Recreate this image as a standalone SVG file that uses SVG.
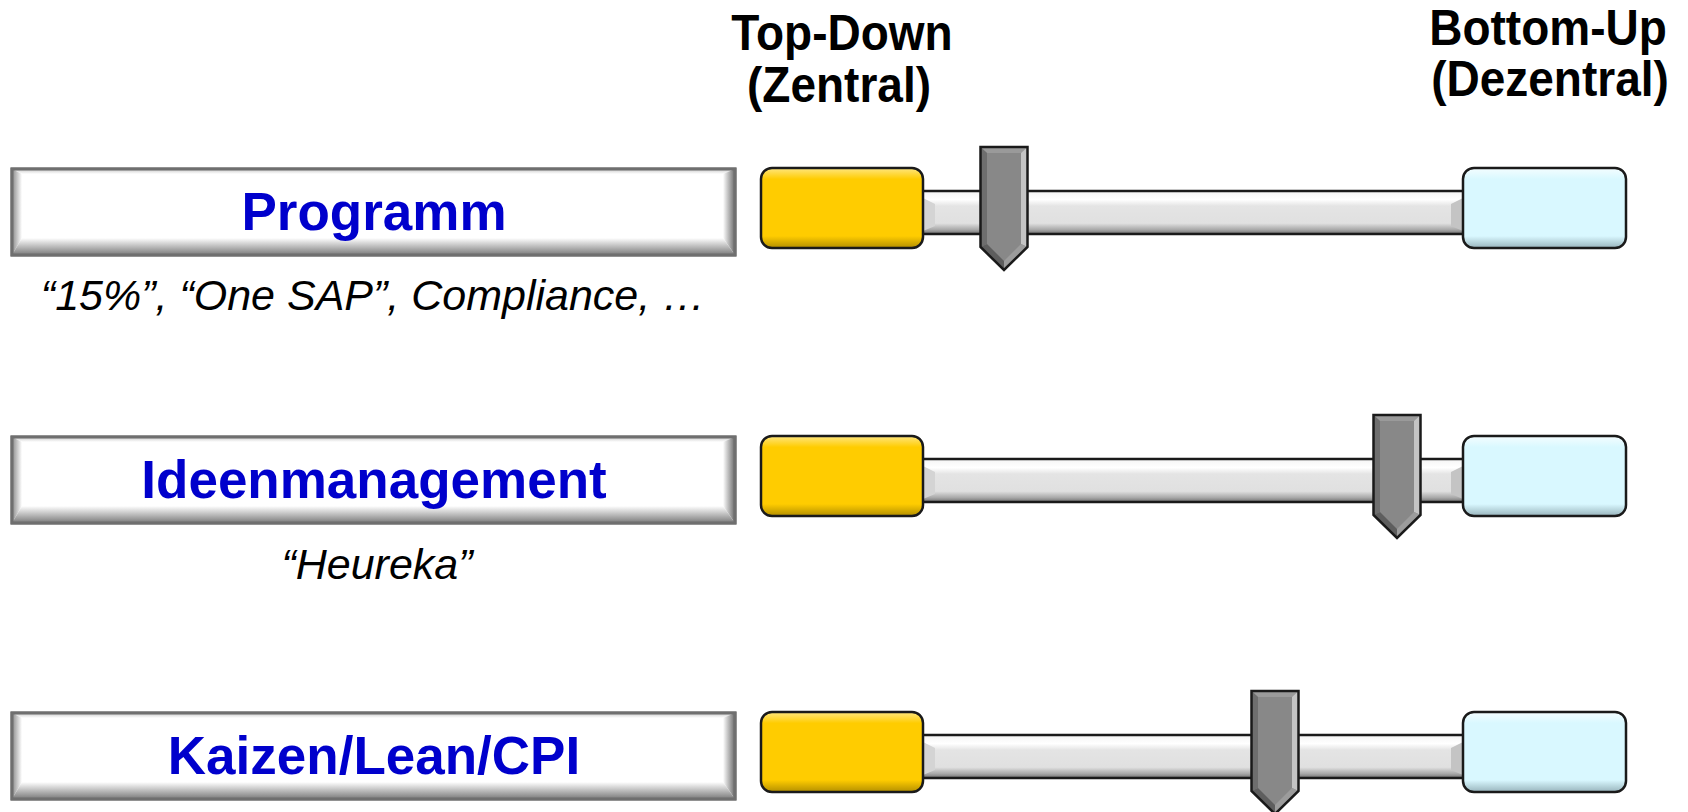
<svg xmlns="http://www.w3.org/2000/svg" width="1688" height="812" viewBox="0 0 1688 812">
<style>
.hdr{font-family:"Liberation Sans",Arial,sans-serif;font-weight:bold;font-size:46px;fill:#000;text-anchor:middle}
.lbl{font-family:"Liberation Sans",Arial,sans-serif;font-weight:bold;font-size:53px;fill:#0000cc;text-anchor:middle}
.sub{font-family:"Liberation Sans",Arial,sans-serif;font-style:italic;font-size:43px;fill:#000;text-anchor:middle}
.edge{stroke:#6f6f6f;stroke-width:3;fill:#fff}
.knob{stroke:#1a1a1a;stroke-width:2.5}
</style>
<defs>
<linearGradient id="gL" x1="0" x2="1" y1="0" y2="0"><stop offset="0" stop-color="#8a8a8a"/><stop offset="1" stop-color="#fff"/></linearGradient>
<linearGradient id="gR" x1="0" x2="1" y1="0" y2="0"><stop offset="0" stop-color="#fff"/><stop offset="1" stop-color="#6a6a6a"/></linearGradient>
<linearGradient id="gB" x1="0" x2="0" y1="0" y2="1"><stop offset="0" stop-color="#fff"/><stop offset="1" stop-color="#7a7a7a"/></linearGradient>
<linearGradient id="gT" x1="0" x2="0" y1="0" y2="1"><stop offset="0" stop-color="#c8c8c8"/><stop offset="1" stop-color="#fff"/></linearGradient>
<linearGradient id="gBar" x1="0" x2="0" y1="0" y2="1">
<stop offset="0" stop-color="#f4f4f4"/><stop offset="0.2" stop-color="#ffffff"/><stop offset="0.35" stop-color="#e4e4e4"/><stop offset="0.75" stop-color="#e0e0e0"/><stop offset="0.9" stop-color="#a8a8a8"/><stop offset="1" stop-color="#707070"/></linearGradient>
<linearGradient id="gY" x1="0" x2="0" y1="0" y2="1">
<stop offset="0" stop-color="#ffe680"/><stop offset="0.14" stop-color="#ffcc00"/><stop offset="0.85" stop-color="#ffcc00"/><stop offset="1" stop-color="#b38f00"/></linearGradient>
<linearGradient id="gC" x1="0" x2="0" y1="0" y2="1">
<stop offset="0" stop-color="#f4fdff"/><stop offset="0.14" stop-color="#d9f8ff"/><stop offset="0.85" stop-color="#d9f8ff"/><stop offset="1" stop-color="#98b4bc"/></linearGradient>
<g id="labelBox">
<rect x="12" y="1" width="723" height="86" class="edge"/>
<polygon points="12,1 735,1 725,6 22,6" fill="url(#gT)"/>
<polygon points="12,1 22,6 22,70 12,87" fill="url(#gL)"/>
<polygon points="735,1 735,87 723,70 723,6" fill="url(#gR)"/>
<polygon points="12,87 735,87 723,70 22,70" fill="url(#gB)"/>
<rect x="12" y="1" width="723" height="86" fill="none" stroke="#6f6f6f" stroke-width="3"/>
</g>
<g id="track">
<rect x="915" y="23" width="556" height="43" fill="url(#gBar)" stroke="#1a1a1a" stroke-width="2.5"/>
<polygon points="923,30 935,36 935,58 923,63" fill="#d4d4d4"/>
<polygon points="1463,30 1451,36 1451,58 1463,63" fill="#c4c4c4"/>
<rect x="761" y="0" width="162" height="80" rx="11" fill="url(#gY)" class="knob"/>
<rect x="1463" y="0" width="163" height="80" rx="11" fill="url(#gC)" class="knob"/>
</g>
<g id="pointer">
<polygon points="-23.5,0 23.5,0 23.5,100 0,123 -23.5,100" fill="#888"/>
<polygon points="-23.5,0 23.5,0 17,6 -17,6" fill="#9a9a9a"/>
<polygon points="-23.5,0 -17,6 -17,97 -23.5,100" fill="#6e6e6e"/>
<polygon points="23.5,0 17,6 17,97 23.5,100" fill="#c4c4c4"/>
<polygon points="-23.5,100 -17,97 0,114 0,123" fill="#5e5e5e"/>
<polygon points="23.5,100 17,97 0,114 0,123" fill="#9c9c9c"/>
<polygon points="-23.5,0 23.5,0 23.5,100 0,123 -23.5,100" fill="none" stroke="#1a1a1a" stroke-width="2.5" stroke-linejoin="miter"/>
</g>
</defs>

<g id="header-topdown">
<text class="hdr" transform="translate(842,50) scale(1,1.08)">Top-Down</text>
<text class="hdr" transform="translate(839,102) scale(1,1.08)">(Zentral)</text>
</g>
<g id="header-bottomup">
<text class="hdr" transform="translate(1548,45) scale(1,1.08)">Bottom-Up</text>
<text class="hdr" transform="translate(1550,96) scale(1,1.08)">(Dezentral)</text>
</g>

<g id="row-programm" transform="translate(0,168)">
<g id="label-programm">
<use href="#labelBox"/>
<text class="lbl" x="374" y="62">Programm</text>
<text class="sub" x="373" y="142">“15%”, “One SAP”, Compliance, …</text>
</g>
<g id="slider-programm">
<use href="#track"/>
<use href="#pointer" transform="translate(1004,-21)"/>
</g>
</g>

<g id="row-ideen" transform="translate(0,436)">
<g id="label-ideen">
<use href="#labelBox"/>
<text class="lbl" x="374" y="62">Ideenmanagement</text>
<text class="sub" x="377" y="143">“Heureka”</text>
</g>
<g id="slider-ideen">
<use href="#track"/>
<use href="#pointer" transform="translate(1397,-21)"/>
</g>
</g>

<g id="row-kaizen" transform="translate(0,712)">
<g id="label-kaizen">
<use href="#labelBox"/>
<text class="lbl" x="374" y="62">Kaizen/Lean/CPI</text>
</g>
<g id="slider-kaizen">
<use href="#track"/>
<use href="#pointer" transform="translate(1275,-21)"/>
</g>
</g>
</svg>
